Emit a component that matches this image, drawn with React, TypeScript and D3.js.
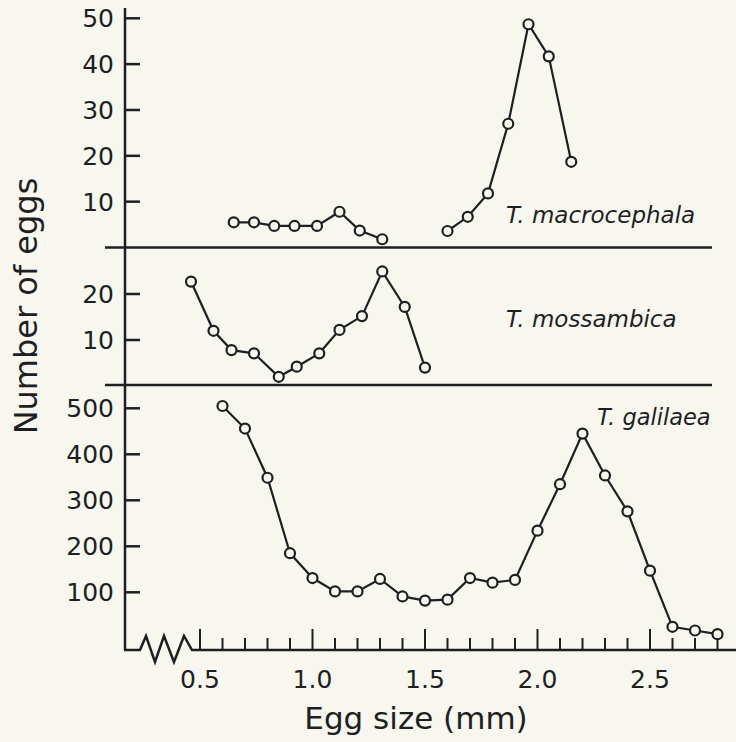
import * as d3 from 'd3';

// egg sizes (mm) and counts
const macroSizesA = [0.65, 0.74, 0.83, 0.92, 1.02, 1.12, 1.21, 1.31];
const macroCountsA = [5.5, 5.5, 4.7, 4.7, 4.7, 7.8, 3.7, 1.8];
const macroSizesB = [1.6, 1.69, 1.78, 1.87, 1.96, 2.05, 2.15];
const macroCountsB = [3.6, 6.7, 11.8, 27, 48.7, 41.7, 18.7];

const mossSizes = [0.46, 0.56, 0.64, 0.74, 0.85, 0.93, 1.03, 1.12, 1.22, 1.31, 1.41, 1.5];
const mossCounts = [22.7, 12, 7.8, 7.1, 2, 4.2, 7.1, 12.2, 15.2, 24.9, 17.2, 4];

const galSizes = [0.6, 0.7, 0.8, 0.9, 1.0, 1.1, 1.2, 1.3, 1.4, 1.5, 1.6, 1.7, 1.8, 1.9, 2.0, 2.1, 2.2, 2.3, 2.4, 2.5, 2.6, 2.7, 2.8];
const galCounts = [505, 456, 349, 185, 131, 102, 102, 129, 91, 82, 84, 131, 121, 127, 234, 335, 445, 354, 276, 147, 25, 17, 9];

const topTicks = [10, 20, 30, 40, 50];
const midTicks = [10, 20];
const botTicks = [100, 200, 300, 400, 500];
const xLabels = [0.5, 1.0, 1.5, 2.0, 2.5];
const xMinor = [0.5, 0.6, 0.7, 0.8, 0.9, 1.0, 1.1, 1.2, 1.3, 1.4, 1.5, 1.6, 1.7, 1.8, 1.9, 2.0, 2.1, 2.2, 2.3, 2.4, 2.5, 2.6, 2.7, 2.8, 2.9];

const ink = '#1e1f22';
const paper = '#f7f6ef';
const font = 'DejaVu Sans, sans-serif';

export default function App() {
  const width = 736;
  const height = 742;
  const axisX = 125;
  const axisY = 650;

  const x = d3.scaleLinear().domain([0.5, 2.5]).range([200, 650]);
  const yTop = d3.scaleLinear().domain([0, 50]).range([247.5, 18.3]);
  const yMid = d3.scaleLinear().domain([0, 20]).range([386, 294]);
  const yBot = d3.scaleLinear().domain([0, 500]).range([638.3, 408.3]);

  const series = (sizes: number[], counts: number[], y: d3.ScaleLinear<number, number>) =>
    sizes.map((s, i) => [x(s), y(counts[i])] as [number, number]);

  const groups = [
    series(macroSizesA, macroCountsA, yTop),
    series(macroSizesB, macroCountsB, yTop),
    series(mossSizes, mossCounts, yMid),
    series(galSizes, galCounts, yBot),
  ];

  const line = d3.line();

  // broken axis zigzag ahead of 0.5
  const zig: [number, number][] = [
    [axisX - 1, axisY], [140, axisY], [146, 636], [155, 662], [164, 636],
    [174, 662], [184, 636], [192, axisY], [width, axisY],
  ];

  const yTicks = [
    ...topTicks.map(v => ({ v, y: yTop(v) })),
    ...midTicks.map(v => ({ v, y: yMid(v) })),
    ...botTicks.map(v => ({ v, y: yBot(v) })),
  ];

  return (
    <svg width={width} height={height} style={{ position: 'absolute', left: 0, top: 0 }}>
      <rect width={width} height={height} fill={paper} />

      {/* y axis */}
      <line x1={axisX} x2={axisX} y1={8} y2={axisY} stroke={ink} strokeWidth={2.5} />
      {yTicks.map((t, i) => (
        <g key={i}>
          <line x1={axisX} x2={axisX + 15} y1={t.y} y2={t.y} stroke={ink} strokeWidth={2.5} />
          <text x={114} y={t.y} dy="0.36em" textAnchor="end" fontFamily={font} fontSize={25} fill={ink}>
            {t.v}
          </text>
        </g>
      ))}

      {/* panel separators */}
      <line x1={105} x2={712} y1={yTop(0)} y2={yTop(0)} stroke={ink} strokeWidth={2.5} />
      <line x1={105} x2={712} y1={yMid(0) - 1} y2={yMid(0) - 1} stroke={ink} strokeWidth={2.5} />

      {/* x axis */}
      <path d={line(zig) || ''} fill="none" stroke={ink} strokeWidth={2.5} strokeLinejoin="miter" />
      {xMinor.map((v, i) => {
        const major = Math.abs((v * 10) % 5) < 0.01;
        return (
          <line key={i} x1={x(v)} x2={x(v)} y1={axisY} y2={axisY - (major ? 21 : 12)} stroke={ink} strokeWidth={2} />
        );
      })}
      {xLabels.map((v, i) => (
        <text key={i} x={x(v)} y={688} textAnchor="middle" fontFamily={font} fontSize={25} fill={ink}>
          {v.toFixed(1)}
        </text>
      ))}

      {/* series */}
      {groups.map((pts, gi) => (
        <g key={gi}>
          <path d={line(pts) || ''} fill="none" stroke={ink} strokeWidth={2.2} />
          {pts.map((p, i) => (
            <circle key={i} cx={p[0]} cy={p[1]} r={5} fill={paper} stroke={ink} strokeWidth={2.2} />
          ))}
        </g>
      ))}

      {/* species labels */}
      <text x={506} y={223} fontFamily={font} fontStyle="italic" fontSize={23} fill={ink}>T. macrocephala</text>
      <text x={506} y={327} fontFamily={font} fontStyle="italic" fontSize={23} fill={ink}>T. mossambica</text>
      <text x={597} y={425} fontFamily={font} fontStyle="italic" fontSize={22.5} fill={ink}>T. galilaea</text>

      {/* axis titles */}
      <text x={416} y={729} textAnchor="middle" fontFamily={font} fontSize={31} fill={ink}>Egg size (mm)</text>
      <text transform="translate(37,306) rotate(-90)" textAnchor="middle" fontFamily={font} fontSize={32} fill={ink}>
        Number of eggs
      </text>
    </svg>
  );
}
